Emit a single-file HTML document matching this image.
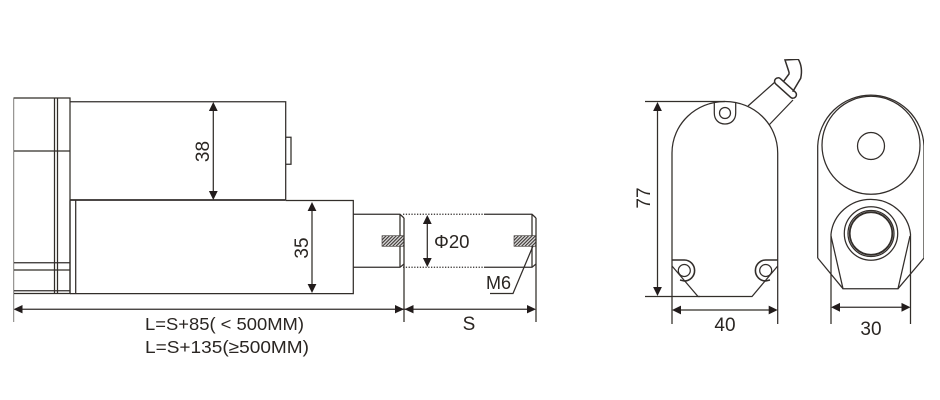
<!DOCTYPE html>
<html>
<head>
<meta charset="utf-8">
<style>
html,body{margin:0;padding:0;background:#fff;width:940px;height:400px;overflow:hidden}
svg{display:block}
text{font-family:"Liberation Sans",sans-serif;fill:#2a2522}
.l{fill:none;stroke:#332d2b;stroke-width:1.25}
.a{fill:#231f1c;stroke:none}
</style>
</head>
<body>
<svg width="940" height="400" viewBox="0 0 940 400" xmlns="http://www.w3.org/2000/svg">
<defs>
<pattern id="h" width="2.4" height="2.4" patternUnits="userSpaceOnUse" patternTransform="rotate(45)">
<rect width="2.4" height="2.4" fill="#ddd"/><rect width="1.1" height="2.4" fill="#3a3432"/>
</pattern>
<filter id="b" x="0" y="0" width="100%" height="100%"><feGaussianBlur stdDeviation="0.3"/></filter>
</defs>
<g filter="url(#b)">
<!-- left view: motor block -->
<g class="l">
<rect x="13.5" y="98" width="56.5" height="195.5"/>
<path d="M54.5 98V293.5M57.5 98V293.5"/>
<path d="M13.5 151H70M13.5 262.7H70M13.5 270H70M13.5 290.7H70"/>
<path d="M70 101.7H285.7V200"/>
<path d="M286 137.3H291V164.3H286"/>
<path d="M70 200H285.7" stroke-width="1.7"/>
<path d="M285.7 200.5H353.3V293.6H70"/>
<path d="M75.7 200.5V293.5M70 200.5V293.5"/>
<path d="M353.3 214.3H400L404 218M353.3 267.3H400L404 264M400 214.3V267.3"/>
<path d="M403 214.3H484M403 267.3H484" stroke-dasharray="1.3 1.5"/>
<path d="M484 214.3H532L536 218M484 267.3H532L536 264M532 214.3V267.3"/>
</g>
<rect x="382" y="235.7" width="22" height="10.6" fill="url(#h)" stroke="#3a3432" stroke-width=".6"/>
<rect x="514" y="235.7" width="22" height="10.6" fill="url(#h)" stroke="#3a3432" stroke-width=".6"/>
<path class="l" d="M533 246L513 293.5H490"/>

<!-- left view dimensions -->
<g class="l">
<path d="M13.5 293V322M404 218V322M536 218V322"/>
<path d="M18 309.2H532"/>
<path d="M213.3 106V196M312 206V289M427.3 220V262"/>
</g>
<g class="a">
<path d="M13.5 309.2l9 -4.2v8.4z"/>
<path d="M404 309.2l-9 -4.2v8.4z"/>
<path d="M404.5 309.2l9 -4.2v8.4z"/>
<path d="M536 309.2l-9 -4.2v8.4z"/>
<path d="M213.3 102l-4.4 9h8.8z"/>
<path d="M213.3 200l-4.4 -9h8.8z"/>
<path d="M312 202l-4.4 9h8.8z"/>
<path d="M312 293l-4.4 -9h8.8z"/>
<path d="M427.3 215l-4.4 9h8.8z"/>
<path d="M427.3 267l-4.4 -9h8.8z"/>
</g>
<text x="209" y="151.5" font-size="19" text-anchor="middle" transform="rotate(-90 209 151.5)">38</text>
<text x="308" y="248" font-size="19" text-anchor="middle" transform="rotate(-90 308 248)">35</text>
<text x="434" y="248" font-size="18.6">Φ20</text>
<text x="486" y="289" font-size="18">M6</text>
<text x="469" y="330" font-size="19" text-anchor="middle">S</text>
<text x="145" y="330" font-size="17.6" textLength="159" lengthAdjust="spacingAndGlyphs">L=S+85( &lt; 500MM)</text>
<text x="145" y="353" font-size="17.6" textLength="164" lengthAdjust="spacingAndGlyphs">L=S+135(≥500MM)</text>

<!-- middle view -->
<g class="l">
<path d="M672 266V153C672 124 696 101.5 725 101.5C754 101.5 777.7 124 777.7 153V266"/>
<path d="M672 266L698 296.5H752L777.7 266"/>
<path d="M714.3 103V113C714.3 120 719 124 725 124C731 124 735.7 120 735.7 113V103"/>
<circle cx="725" cy="113" r="5.5"/>
<g stroke-width="1.6">
<path d="M672 260H684.3A10.3 10.5 0 0 1 684.3 281L680 280"/>
<path d="M777.7 260H765.7A10.3 10.5 0 0 0 765.7 281L770 280"/>
</g>
<circle cx="684.3" cy="270.5" r="6"/>
<circle cx="765.7" cy="270.5" r="6"/>
<path d="M748 106L775 82M769 125L793 100"/>
<rect x="772" y="84.5" width="27" height="7" rx="3.5" transform="rotate(42 785.5 88)" stroke-width="1.5"/>
<path d="M783.3 81.7L789 74C789.5 72 788.5 71 788.3 70L785 60L798.3 59.3C801 64 802.5 70 800.7 78.3L792.7 91.7" stroke-width="1.5"/>
<path d="M645 101.5H725M645 296.5H700"/>
<path d="M657.5 106V292"/>
<path d="M672 266V324M777.7 266V324"/>
<path d="M676 310H774"/>
</g>
<g class="a">
<path d="M657.5 102l-4.4 9h8.8z"/>
<path d="M657.5 296l-4.4 -9h8.8z"/>
<path d="M672 310l9 -4.4v8.8z"/>
<path d="M777.7 310l-9 -4.4v8.8z"/>
</g>
<text x="650" y="198" font-size="19" text-anchor="middle" transform="rotate(-90 650 198)">77</text>
<text x="725" y="331" font-size="19" text-anchor="middle">40</text>

<!-- right view -->
<g class="l">
<path d="M817.7 258V146A53.2 53.2 0 0 1 924 146V258L898 288.7"/>
<path d="M817.7 258L843 288.7"/>
<circle cx="871" cy="145.3" r="49"/>
<circle cx="871" cy="146" r="13.5"/>
<path d="M831 236L843 288.7H898L910 236"/>
<path d="M831 234A40 39 0 0 1 910.5 234"/>
<circle cx="871" cy="233.5" r="26.7"/>
<circle cx="871" cy="233.5" r="23"/>
<circle cx="871" cy="233.5" r="21.3" stroke-width="1.8"/>
<path d="M831 234V324M910.5 234V324"/>
<path d="M835 307.3H906"/>
</g>
<g class="a">
<path d="M831 307.3l9 -4.4v8.8z"/>
<path d="M910.5 307.3l-9 -4.4v8.8z"/>
</g>
<text x="871" y="335" font-size="19" text-anchor="middle">30</text>
</g>
</svg>
</body>
</html>
